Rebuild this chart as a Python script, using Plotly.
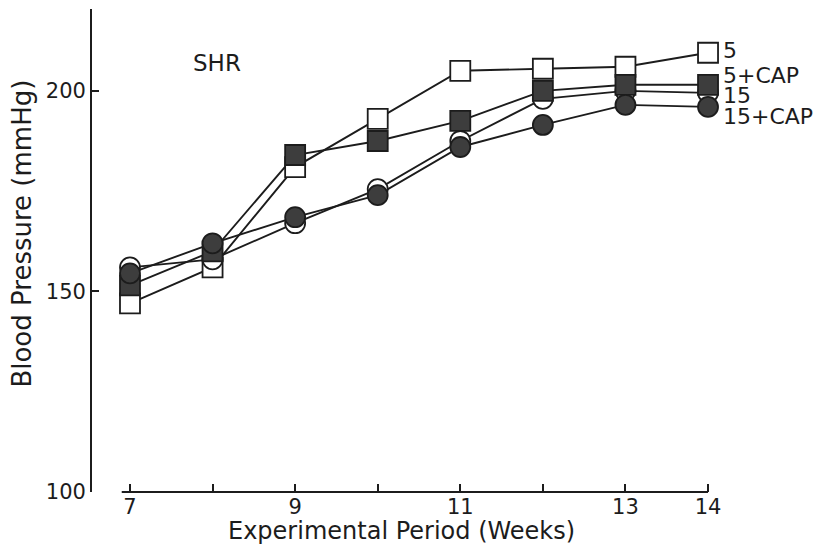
import plotly.graph_objects as go

# Weekly blood pressure readings (mmHg) for the four SHR groups
weeks = [7, 8, 9, 10, 11, 12, 13, 14]
bp_5 = [147, 156, 181, 193, 205, 205.5, 206, 209.5]
bp_5_cap = [151.5, 160, 184, 187.5, 192.5, 200, 201.5, 201.5]
bp_15 = [156, 158, 167, 175.5, 187.5, 198, 200, 199.5]
bp_15_cap = [154.5, 162, 168.5, 174, 186, 191.5, 196.5, 196]

series_names = ["5", "5+CAP", "15", "15+CAP"]
x_tick_vals = [7, 8, 9, 10, 11, 12, 13, 14]
x_tick_text = ["7", "", "9", "", "11", "", "13", "14"]
y_tick_vals = [100, 150, 200]

INK = "#1c1c1c"
FILL = "#3d3d3d"
FONT = "DejaVu Sans"

groups = [
    (series_names[0], bp_5, "square", "white"),
    (series_names[1], bp_5_cap, "square", FILL),
    (series_names[2], bp_15, "circle", "white"),
    (series_names[3], bp_15_cap, "circle", FILL),
]

fig = go.Figure()

# connecting lines first so every symbol sits above them
for name, vals, _, _ in groups:
    fig.add_trace(go.Scatter(
        x=weeks, y=vals, mode="lines", name=name,
        line=dict(color=INK, width=1.9), showlegend=False, hoverinfo="skip",
    ))

# open symbols underneath, filled symbols on top
for name, vals, symbol, fill in [groups[0], groups[2], groups[1], groups[3]]:
    fig.add_trace(go.Scatter(
        x=weeks, y=vals, mode="markers", name=name,
        marker=dict(symbol=symbol, size=20, color=fill,
                    line=dict(color=INK, width=1.8)),
        showlegend=False,
    ))

# group labels at the right-hand end of the lines
label_y = [210, 203.9, 198.8, 193.6]
for name, ly in zip(series_names, label_y):
    fig.add_annotation(
        x=14, y=ly, xref="x", yref="y", text=name, showarrow=False,
        xanchor="left", yanchor="middle", xshift=13,
        font=dict(family=FONT, size=22, color=INK),
    )

fig.add_annotation(
    x=8.05, y=207, xref="x", yref="y", text="SHR", showarrow=False,
    font=dict(family=FONT, size=23, color=INK),
)

# axis titles
fig.add_annotation(
    x=0.5, y=0, xref="paper", yref="paper", text="Experimental Period (Weeks)",
    showarrow=False, yanchor="middle", yshift=-39, xshift=-5,
    font=dict(family=FONT, size=24, color=INK),
)
fig.add_annotation(
    x=0, y=0.535, xref="paper", yref="paper", text="Blood Pressure (mmHg)",
    showarrow=False, textangle=-90, xanchor="center", yanchor="middle",
    xshift=-70,
    font=dict(family=FONT, size=26, color=INK),
)

# x baseline spanning only the measured weeks
fig.add_shape(
    type="line", xref="x", yref="paper", x0=7 - 0.1, x1=14, y0=0, y1=0,
    line=dict(color=INK, width=1.8),
)

fig.update_xaxes(
    range=[6.54, 14.145], showline=False, showgrid=False, zeroline=False,
    tickmode="array", tickvals=x_tick_vals, ticktext=x_tick_text,
    ticks="inside", ticklen=8, tickwidth=1.6, tickcolor=INK,
    tickfont=dict(family=FONT, size=21, color=INK),
)
fig.update_yaxes(
    range=[100, 220.4], showline=True, linecolor=INK, linewidth=1.8,
    showgrid=False, zeroline=False,
    tickmode="array", tickvals=y_tick_vals,
    ticks="inside", ticklen=7, tickwidth=1.6, tickcolor=INK,
    tickfont=dict(family=FONT, size=21, color=INK),
)

fig.update_layout(
    width=817, height=544,
    margin=dict(l=92, r=97, t=9, b=52),
    paper_bgcolor="white", plot_bgcolor="white",
    showlegend=False,
)

fig.write_html("out.html")
